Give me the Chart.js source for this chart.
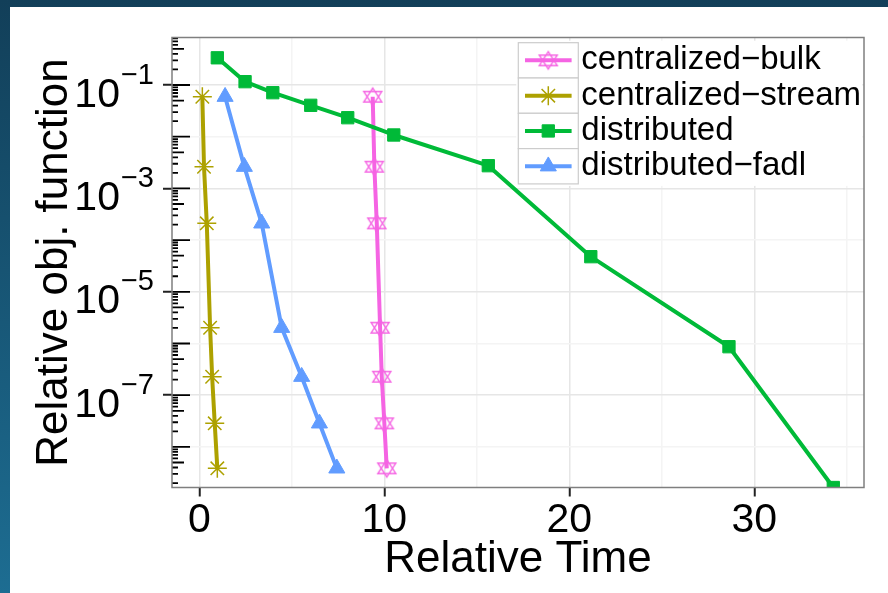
<!DOCTYPE html>
<html>
<head>
<meta charset="utf-8">
<script src="https://cdn.jsdelivr.net/npm/chart.js@4.4.1/dist/chart.umd.min.js"></script>
<style>
  html, body { margin: 0; padding: 0; }
  body { width: 888px; height: 593px; overflow: hidden; position: relative;
         background: linear-gradient(to bottom, #123f59, #1d6d92); }
  #frame { position: absolute; left: 10px; top: 7px; width: 878px; height: 586px; background: #fff; }
  canvas { display: block; }
</style>
</head>
<body>
<div id="frame"><canvas id="myChart" width="878" height="586"></canvas></div>
<script>
// relative time and relative objective per method
const timeBulk   = [9.37, 9.46, 9.59, 9.77, 9.86, 10.0, 10.13];
const objBulk    = [5.94e-2, 2.63e-3, 2.11e-4, 2.02e-6, 2.28e-7, 2.86e-8, 3.85e-9];
const timeStream = [0.16, 0.25, 0.40, 0.58, 0.69, 0.83, 0.97];
const objStream  = [5.94e-2, 2.63e-3, 2.11e-4, 2.02e-6, 2.28e-7, 2.86e-8, 3.85e-9];
const timeDist   = [0.97, 2.47, 3.97, 6.02, 8.02, 10.51, 15.62, 21.16, 28.63, 34.27];
const objDist    = [0.336, 0.116, 0.0710, 0.0405, 0.0233, 0.0108, 2.75e-3, 4.78e-5, 8.67e-7, 1.64e-9];
const timeFadl   = [1.39, 2.43, 3.37, 4.45, 5.53, 6.49, 7.43];
const objFadl    = [5.94e-2, 2.63e-3, 2.11e-4, 2.02e-6, 2.28e-7, 2.86e-8, 3.85e-9];

const seriesNames = ['centralized\u2212bulk', 'centralized\u2212stream', 'distributed', 'distributed\u2212fadl'];
const seriesColors = ['#F564E3', '#ADA100', '#00BA38', '#619CFF'];

// axis ticks
const xTicks = [0, 10, 20, 30];
const xMinorTicks = [5, 15, 25, 35];
const yTickPowers = [-1, -3, -5, -7];
const yMinorPowers = [-2, -4, -6, -8];

const FONT = '"Liberation Sans", Arial, Helvetica, sans-serif';

function toPoints(xs, ys) {
  return xs.map((x, i) => ({ x: x, y: ys[i] }));
}

// outlined triangle up + triangle down (no such pointStyle in Chart.js)
function makeTwoTriangles(color) {
  const c = document.createElement('canvas');
  c.width = 24; c.height = 24;
  const g = c.getContext('2d');
  g.strokeStyle = color;
  g.lineWidth = 1.4;
  const cx = 12, cy = 12, r = 8.6, yc = 5.2, xc = 9;
  g.beginPath();
  g.moveTo(cx, cy - r); g.lineTo(cx + xc, cy + yc); g.lineTo(cx - xc, cy + yc); g.closePath();
  g.moveTo(cx, cy + r); g.lineTo(cx + xc, cy - yc); g.lineTo(cx - xc, cy - yc); g.closePath();
  g.stroke();
  return c;
}

function lineSet(i, xs, ys, style, radius, pbw, order) {
  return {
    label: seriesNames[i],
    data: toPoints(xs, ys),
    borderColor: seriesColors[i],
    backgroundColor: seriesColors[i],
    borderWidth: 4,
    borderJoinStyle: 'round',
    tension: 0,
    pointStyle: style,
    pointRadius: radius,
    pointBorderWidth: pbw,
    pointBackgroundColor: seriesColors[i],
    pointBorderColor: seriesColors[i],
    order: order
  };
}

// panel border + log ticks inside the left edge
const panelDecor = {
  id: 'panelDecor',
  afterDatasetsDraw(chart) {
    const ctx = chart.ctx;
    const area = chart.chartArea;
    const y = chart.scales.y;
    ctx.save();
    ctx.beginPath();
    ctx.rect(area.left, area.top, area.right - area.left, area.bottom - area.top);
    ctx.clip();
    ctx.strokeStyle = '#000';
    ctx.lineWidth = 1.8;
    for (let p = -10; p <= 0; p++) {
      for (let k = 1; k <= 9; k++) {
        const v = k * Math.pow(10, p);
        if (v < y.min || v > y.max) continue;
        const py = y.getPixelForValue(v);
        const len = k === 1 ? 18 : (k === 5 ? 12 : 6);
        ctx.beginPath();
        ctx.moveTo(area.left, py);
        ctx.lineTo(area.left + len, py);
        ctx.stroke();
      }
    }
    ctx.restore();

    ctx.save();
    ctx.strokeStyle = '#7f7f7f';
    ctx.lineWidth = 1.5;
    ctx.strokeRect(area.left, area.top, area.right - area.left, area.bottom - area.top);
    ctx.restore();
  },
  afterDraw(chart) {
    const ctx = chart.ctx;
    const area = chart.chartArea;
    const y = chart.scales.y;

    // y tick labels as 10^n
    ctx.save();
    ctx.fillStyle = '#000';
    ctx.textBaseline = 'alphabetic';
    const rightX = area.left - 18;
    yTickPowers.forEach(p => {
      const py = y.getPixelForValue(Math.pow(10, p));
      const sup = '\u2212' + Math.abs(p);
      ctx.font = '29px ' + FONT;
      const supW = ctx.measureText(sup).width;
      ctx.textAlign = 'left';
      ctx.fillText(sup, rightX - supW, py - 1.5);
      ctx.font = '41px ' + FONT;
      ctx.textAlign = 'right';
      ctx.fillText('10', rightX - supW - 1, py + 21.5);
    });
    ctx.restore();

    // legend in the upper right of the panel
    const keyLeft = 508.3, keyW = 60, rowTop = 35.7, rowH = 35.3;
    ctx.save();
    ctx.fillStyle = '#fff';
    ctx.fillRect(keyLeft - 2, rowTop - 2, 346, rowH * 4 + 4);
    chart.data.datasets.forEach((ds, i) => {
      const top = rowTop + i * rowH;
      const cy = top + rowH / 2;
      ctx.fillStyle = '#fff';
      ctx.fillRect(keyLeft, top, keyW, rowH);
      ctx.strokeStyle = '#cccccc';
      ctx.lineWidth = 1.2;
      ctx.strokeRect(keyLeft, top, keyW, rowH);

      ctx.strokeStyle = ds.borderColor;
      ctx.lineWidth = 4;
      ctx.beginPath();
      ctx.moveTo(keyLeft + 6.7, cy);
      ctx.lineTo(keyLeft + keyW - 6.7, cy);
      ctx.stroke();

      const opts = chart.getDatasetMeta(i).data[0].options;
      ctx.fillStyle = opts.backgroundColor;
      ctx.strokeStyle = opts.borderColor;
      ctx.lineWidth = opts.borderWidth;
      Chart.helpers.drawPoint(ctx, {
        pointStyle: opts.pointStyle, radius: opts.radius,
        borderWidth: opts.borderWidth, rotation: 0
      }, keyLeft + keyW / 2, cy);

      ctx.fillStyle = '#000';
      ctx.font = '33px ' + FONT;
      ctx.textAlign = 'left';
      ctx.textBaseline = 'middle';
      ctx.fillText(ds.label, keyLeft + keyW + 3, cy);
    });
    ctx.restore();
  }
};

const ctx = document.getElementById('myChart').getContext('2d');
const myChart = new Chart(ctx, {
  type: 'line',
  data: {
    datasets: [
      lineSet(0, timeBulk, objBulk, makeTwoTriangles(seriesColors[0]), 9, 1.4, 3),
      lineSet(1, timeStream, objStream, 'star', 9.5, 1.5, 2),
      lineSet(2, timeDist, objDist, 'rect', 8.7, 1, 1),
      lineSet(3, timeFadl, objFadl, 'triangle', 9.3, 1, 0)
    ]
  },
  options: {
    responsive: false,
    animation: false,
    devicePixelRatio: 1,
    events: [],
    layout: { padding: { top: 30.5, right: 24, bottom: 0, left: 0 } },
    plugins: {
      legend: { display: false },
      tooltip: { enabled: false }
    },
    scales: {
      x: {
        type: 'linear',
        min: -1.48,
        max: 35.93,
        afterBuildTicks: s => {
          s.ticks = xTicks.concat(xMinorTicks).sort((a, b) => a - b).map(v => ({ value: v }));
        },
        afterFit: s => { s.height = 105.5; },
        ticks: {
          autoSkip: false,
          maxRotation: 0,
          padding: 0,
          color: '#000',
          font: { family: FONT, size: 41 },
          callback: v => xTicks.includes(v) ? String(v) : ''
        },
        grid: {
          color: c => xTicks.includes(c.tick.value) ? '#e6e6e6' : '#f4f4f4',
          lineWidth: 1.5,
          tickLength: 9,
          tickWidth: 2,
          tickColor: c => xTicks.includes(c.tick.value) ? '#222' : 'rgba(0,0,0,0)'
        },
        border: { display: false },
        title: {
          display: true,
          text: 'Relative Time',
          color: '#000',
          font: { family: FONT, size: 44 },
          padding: { top: 0, bottom: 7 }
        }
      },
      y: {
        type: 'logarithmic',
        min: Math.pow(10, -8.785),
        max: Math.pow(10, -0.081),
        afterBuildTicks: s => {
          s.ticks = yMinorPowers.concat(yTickPowers).sort((a, b) => a - b).map(p => ({ value: Math.pow(10, p) }));
        },
        afterFit: s => { s.width = 162; },
        ticks: { display: false },
        grid: {
          color: c => yTickPowers.includes(Math.round(Math.log10(c.tick.value))) ? '#e6e6e6' : '#f4f4f4',
          lineWidth: 1.5,
          tickLength: 9,
          tickWidth: 2,
          tickColor: c => yTickPowers.includes(Math.round(Math.log10(c.tick.value))) ? '#222' : 'rgba(0,0,0,0)'
        },
        border: { display: false },
        title: {
          display: true,
          text: 'Relative obj. function',
          color: '#000',
          font: { family: FONT, size: 44 },
          padding: { top: 18.4, bottom: 0 }
        }
      }
    }
  },
  plugins: [panelDecor]
});
</script>
</body>
</html>
